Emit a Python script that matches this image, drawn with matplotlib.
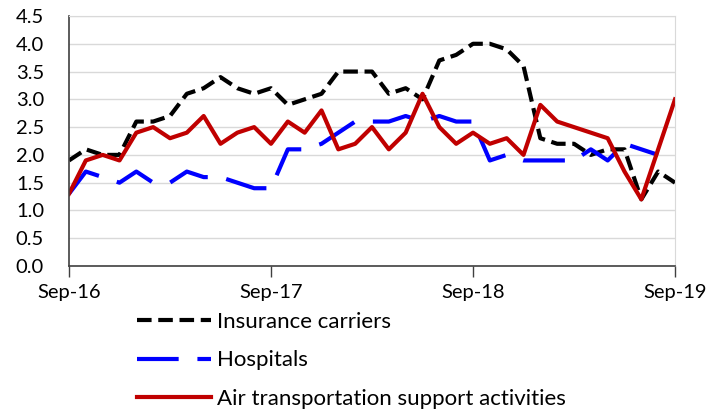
import matplotlib.pyplot as plt
import numpy as np

plt.rcParams['font.family'] = ['Lato', 'DejaVu Sans']

months = np.arange(37)
tick_pos = [0, 12, 24, 36]
tick_labels = ['Sep-16', 'Sep-17', 'Sep-18', 'Sep-19']

insurance = [1.9, 2.1, 2.0, 2.0, 2.6, 2.6, 2.7, 3.1, 3.2, 3.4, 3.2, 3.1,
             3.2, 2.9, 3.0, 3.1, 3.5, 3.5, 3.5, 3.1, 3.2, 3.0, 3.7, 3.8,
             4.0, 4.0, 3.9, 3.6, 2.3, 2.2, 2.2, 2.0, 2.1, 2.1, 1.2, 1.7, 1.5]
hospitals = [1.3, 1.7, 1.6, 1.5, 1.7, 1.5, 1.5, 1.7, 1.6, 1.6, 1.5, 1.4,
             1.4, 2.1, 2.1, 2.2, 2.4, 2.6, 2.6, 2.6, 2.7, 2.6, 2.7, 2.6,
             2.6, 1.9, 2.0, 1.9, 1.9, 1.9, 1.9, 2.1, 1.9, 2.2, 2.1, 2.0, np.nan]
air = [1.3, 1.9, 2.0, 1.9, 2.4, 2.5, 2.3, 2.4, 2.7, 2.2, 2.4, 2.5,
       2.2, 2.6, 2.4, 2.8, 2.1, 2.2, 2.5, 2.1, 2.4, 3.1, 2.5, 2.2,
       2.4, 2.2, 2.3, 2.0, 2.9, 2.6, 2.5, 2.4, 2.3, 1.7, 1.2, 2.1, 3.0]

fig = plt.figure(figsize=(7.23, 4.11), dpi=100)
ax = fig.add_axes([69/723, 1 - 266/411, (675 - 69)/723, (266 - 16)/411])

ax.plot(months, insurance, color='black', lw=3, dashes=(3.5, 1.6),
        label='Insurance carriers')
ax.plot(months, hospitals, color='#0000ff', lw=3, dashes=(10, 4.5),
        label='Hospitals')
ax.plot(months, air, color='#c00000', lw=3, label='Air transportation support activities')

ax.set_xlim(0, 36)
ax.set_ylim(0, 4.5)
ax.set_yticks(np.arange(0, 4.51, 0.5))
ax.set_yticklabels([f'{v:.1f}' for v in np.arange(0, 4.51, 0.5)])
ax.set_xticks(tick_pos)
ax.set_xticklabels(tick_labels)
ax.grid(axis='y', color='#d9d9d9', lw=1)
ax.set_axisbelow(True)

ax.tick_params(axis='y', length=0, labelsize=14.5, pad=18, colors='black')
ax.tick_params(axis='x', length=8, width=1, labelsize=14.5, pad=5, color='#404040')
for s in ['top', 'right']:
    ax.spines[s].set_color('#d9d9d9')
for s in ['left', 'bottom']:
    ax.spines[s].set_color('#404040')
    ax.spines[s].set_linewidth(1.2)

fig.legend(loc='upper left', bbox_to_anchor=(137/723, 1 - 312/411),
           frameon=False, fontsize=16, handlelength=3.35, handletextpad=0.27,
           labelspacing=0.83, borderpad=0, borderaxespad=0)

fig.savefig('out.png', dpi=100)
